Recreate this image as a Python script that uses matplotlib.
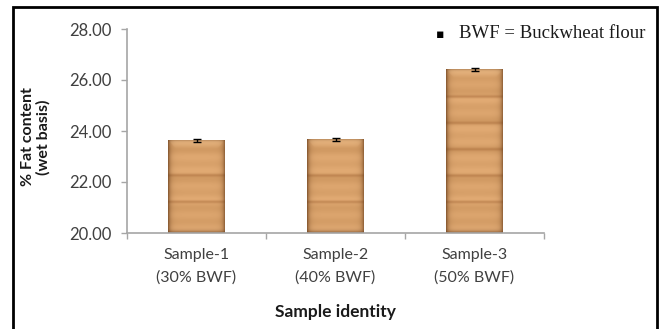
import numpy as np
import matplotlib
matplotlib.use("Agg")
import matplotlib.pyplot as plt
from matplotlib.patches import Rectangle

# ---- data ----
categories = ["Sample-1\n(30% BWF)", "Sample-2\n(40% BWF)", "Sample-3\n(50% BWF)"]
fat_content = [23.63, 23.68, 26.42]
fat_error = [0.06, 0.06, 0.07]
yticks = [20.0, 22.0, 24.0, 26.0, 28.0]
ylabel = "% Fat content\n(wet basis)"
xlabel = "Sample identity"
note = "BWF = Buckwheat flour"

W, H = 662, 329
fig = plt.figure(figsize=(W / 100, H / 100), dpi=100)
ax = fig.add_axes([127 / W, 1 - 233 / H, (544 - 127) / W, (233 - 29) / H])

ymin, ymax = yticks[0], yticks[-1]
x = np.arange(len(categories))
vals = np.array(fat_content)
bars = ax.bar(x, vals - ymin, bottom=ymin, width=0.41, color="#D69C62",
              edgecolor="none", zorder=2)

# wood-like bevel texture on each bar
px_per_unit = (233 - 29) / (ymax - ymin)
px_per_cat = (544 - 127) / 3.0
base = np.array([218, 163, 108]) / 255
dark = np.array([105, 62, 28]) / 255
light = np.array([240, 196, 145]) / 255
stripe = np.array([172, 112, 62]) / 255
for b in bars:
    x0, w = b.get_x(), b.get_width()
    y0, h = b.get_y(), b.get_height()
    wpx = w * px_per_cat
    hpx = h * px_per_unit
    nx, ny = int(wpx * 3), int(hpx * 3)
    xs = (np.arange(nx) + 0.5) / 3.0
    ys = (np.arange(ny) + 0.5) / 3.0  # from bottom
    X, Y = np.meshgrid(xs, ys)
    dl = np.minimum(X, wpx - X)
    dt = hpx - Y
    img = np.ones((ny, nx, 3)) * base
    grain = 0.02 * np.sin(Y / 2.3) + 0.015 * np.sin(Y / 5.1 + 1.0)
    img = img + grain[..., None]
    for k in range(1, 20):
        sy = 31 + (k - 1) * 26.3
        if sy > hpx - 12:
            break
        s = np.exp(-((Y - sy) / 1.5) ** 2) * 0.55
        img = img * (1 - s[..., None]) + stripe * s[..., None]
    tb = np.clip(1 - dt / 9.0, 0, 1) * 0.55
    tb = tb * (dl > dt * 0.9)
    img = img * (1 - tb[..., None]) + light * tb[..., None]
    e = np.exp(-dl / 2.2) * 0.85
    img = img * (1 - e[..., None]) + dark * e[..., None]
    bb = np.exp(-Y / 2.0) * 0.8
    img = img * (1 - bb[..., None]) + dark * bb[..., None]
    tt = np.exp(-dt / 1.2) * 0.5
    img = img * (1 - tt[..., None]) + dark * tt[..., None]
    img = np.clip(img, 0, 1)
    im = ax.imshow(img, origin="lower", extent=[x0, x0 + w, y0, y0 + h],
                   aspect="auto", interpolation="bilinear", zorder=2.5)
    im.set_clip_path(b)

ax.errorbar(x, vals, yerr=fat_error, fmt="none", ecolor="black",
            elinewidth=1.0, capsize=3, capthick=1.0, zorder=3)

ax.set_xlim(-0.5, 2.5)
ax.set_ylim(ymin, ymax)
ax.set_yticks(yticks)
ax.set_yticklabels([f"{v:.2f}" for v in yticks])
ax.set_xticks(x)
ax.set_xticklabels(categories, linespacing=1.75)
ax.set_xticks(np.arange(-0.5, len(categories), 1.0), minor=True)

tick_color = "#A6A6A6"
lab_color = "#404040"
ax.tick_params(axis="x", which="major", length=0, pad=11, labelsize=11.5,
               labelcolor=lab_color)
ax.tick_params(axis="x", which="minor", length=4, width=1, color=tick_color,
               direction="out")
ax.tick_params(axis="y", length=4, width=1, color=tick_color, pad=7,
               labelsize=12, labelcolor=lab_color)
for lab in ax.get_xticklabels() + ax.get_yticklabels():
    lab.set_fontfamily("Lato")

for side in ["top", "right"]:
    ax.spines[side].set_visible(False)
for side in ["left", "bottom"]:
    ax.spines[side].set_color(tick_color)
    ax.spines[side].set_linewidth(1.2)

fig.text(36 / W, 1 - 137 / H, ylabel, rotation=90, ha="center", va="center",
         multialignment="center", fontsize=11.5, fontweight="bold",
         family="Lato", color="#1a1a1a", linespacing=1.12)
fig.text(335 / W, 1 - 312 / H, xlabel, ha="center", va="center",
         fontsize=12.5, fontweight="bold", family="Lato", color="#1a1a1a")

fig.text(440 / W, 1 - 34 / H, "\u25aa", ha="center", va="center",
         fontsize=9, family="DejaVu Sans", color="black")
fig.text(459 / W, 1 - 34 / H, note, ha="left", va="center",
         fontsize=13.5, family="Liberation Serif", color="#1a1a1a")

fig.patches.append(Rectangle((12.5 / W, -0.05), (656.5 - 12.5) / W,
                             1.05 - 7.5 / H, transform=fig.transFigure,
                             fill=False, edgecolor="black", linewidth=2.0))

fig.savefig("out.png", dpi=100)
